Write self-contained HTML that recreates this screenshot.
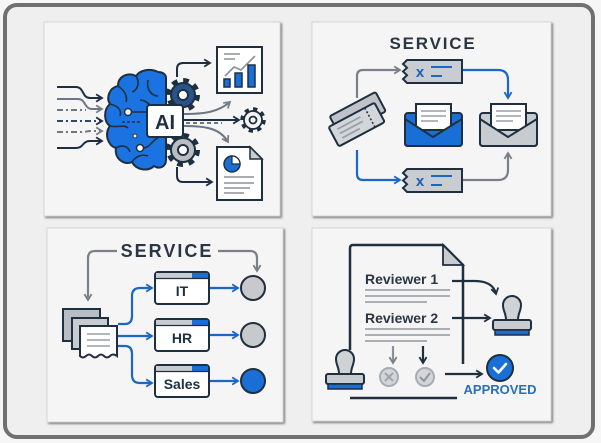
<!DOCTYPE html>
<html><head><meta charset="utf-8"><style>
html,body{margin:0;padding:0;background:#f6f6f6;}
svg{display:block;font-family:"Liberation Sans",sans-serif;}
</style></head><body>
<svg width="601" height="443" viewBox="0 0 601 443" xmlns="http://www.w3.org/2000/svg">
<defs>
<filter id="sh" x="-5%" y="-5%" width="110%" height="110%"><feDropShadow dx="1.5" dy="1.5" stdDeviation="1" flood-color="#6a6a6a" flood-opacity="0.85"/></filter>
<marker id="ad" viewBox="0 0 10 10" refX="8" refY="5" markerWidth="9" markerHeight="9" orient="auto" markerUnits="userSpaceOnUse"><path d="M1.5,1 L8,5 L1.5,9" fill="none" stroke="#1e2f40" stroke-width="2"/></marker>
<marker id="ag" viewBox="0 0 10 10" refX="8" refY="5" markerWidth="9" markerHeight="9" orient="auto" markerUnits="userSpaceOnUse"><path d="M1.5,1 L8,5 L1.5,9" fill="none" stroke="#7a8088" stroke-width="2"/></marker>
<marker id="ab" viewBox="0 0 10 10" refX="8" refY="5" markerWidth="9" markerHeight="9" orient="auto" markerUnits="userSpaceOnUse"><path d="M1.5,1 L8,5 L1.5,9" fill="none" stroke="#1a66c9" stroke-width="2"/></marker>
</defs>

<!-- outer frame -->
<rect x="5" y="5" width="588" height="432" rx="12" fill="#efefef" stroke="#707070" stroke-width="4"/>

<!-- panels -->
<rect x="44" y="22" width="236" height="194" fill="#f5f5f5" stroke="#d6d6d6" filter="url(#sh)"/>
<rect x="312" y="22" width="239" height="194" fill="#f5f5f5" stroke="#d6d6d6" filter="url(#sh)"/>
<rect x="47" y="228" width="236" height="194" fill="#f5f5f5" stroke="#d6d6d6" filter="url(#sh)"/>
<rect x="312" y="228" width="239" height="193" fill="#f5f5f5" stroke="#d6d6d6" filter="url(#sh)"/>

<!-- ================= PANEL 1 ================= -->
<g fill="none" stroke-width="2">
  <path d="M57,87 H76 C84,87 82,98 90,98 H102" stroke="#1e2f40" marker-end="url(#ad)"/>
  <path d="M57,99 H78 C86,99 84,109 92,109 H102" stroke="#6b7785" marker-end="url(#ag)"/>
  <path d="M57,110 H86" stroke="#6b7785" stroke-dasharray="6,3,2,3"/>
  <path d="M57,121 H102" stroke="#2d4a6a" stroke-dasharray="6,3,2,3" marker-end="url(#ad)"/>
  <path d="M57,132 H80 C88,132 86,131 92,131 H102" stroke="#6b7785" stroke-dasharray="6,3,2,3" marker-end="url(#ag)"/>
  <path d="M57,148 H76 C84,148 82,141 90,141 H102" stroke="#1e2f40" marker-end="url(#ad)"/>
</g>
<!-- brain -->
<path d="M158,72 C150,68 140,70 136,76 C128,72 118,76 118,86 C109,88 106,98 110,104 C103,110 104,122 110,126 C104,134 108,146 116,148 C114,158 124,166 132,162 C136,170 148,172 154,166 C160,170 166,166 166,160 L166,78 C166,74 162,72 158,72 Z" fill="#1a73e0" stroke="#1e2f40" stroke-width="2"/>
<g fill="none" stroke="#1e2f40" stroke-width="1.6">
  <path d="M136,76 C140,82 138,90 132,92"/>
  <path d="M118,86 C124,90 128,96 126,102"/>
  <path d="M110,104 C118,106 122,110 120,116"/>
  <path d="M110,126 C118,128 124,124 128,128"/>
  <path d="M116,148 C122,144 128,146 130,152"/>
  <path d="M148,80 C146,90 152,96 158,96"/>
  <path d="M140,100 C148,100 150,108 158,108"/>
  <path d="M132,162 C136,156 142,154 148,156"/>
  <path d="M131,112 H148"/>
  <path d="M143,148 C150,148 152,140 158,138"/>
  <path d="M122,122 H140" stroke-dasharray="3,2"/>
</g>
<circle cx="128" cy="112" r="3.5" fill="#fff" stroke="#1e2f40" stroke-width="1.5"/>
<circle cx="140" cy="148" r="3.5" fill="#fff" stroke="#1e2f40" stroke-width="1.5"/>
<circle cx="135" cy="136" r="2" fill="#fff" stroke="#1e2f40" stroke-width="1"/>
<!-- gears -->
<circle cx="183" cy="95" r="14" fill="none" stroke="#1e2f40" stroke-width="6" stroke-dasharray="5.5,5.5"/>
<circle cx="183" cy="95" r="12" fill="#27548a" stroke="#1e2f40" stroke-width="2"/>
<circle cx="183" cy="95" r="5" fill="#fff" stroke="#1e2f40" stroke-width="2"/>
<circle cx="183" cy="150" r="14" fill="none" stroke="#1e2f40" stroke-width="6" stroke-dasharray="5.5,5.5"/>
<circle cx="183" cy="150" r="12" fill="#b9bdc3" stroke="#1e2f40" stroke-width="2"/>
<circle cx="183" cy="150" r="5" fill="#fff" stroke="#1e2f40" stroke-width="2"/>
<circle cx="253" cy="120" r="10.5" fill="none" stroke="#1e2f40" stroke-width="4.5" stroke-dasharray="4.1,4.1"/>
<circle cx="253" cy="120" r="9" fill="#f5f5f5" stroke="#1e2f40" stroke-width="1.8"/>
<circle cx="253" cy="120" r="3.5" fill="#f5f5f5" stroke="#1e2f40" stroke-width="1.8"/>
<!-- output arrows -->
<g fill="none" stroke-width="2">
  <path d="M177,77 V69 Q177,63 183,63 H210" stroke="#1e2f40" marker-end="url(#ad)"/>
  <path d="M184,114 C205,114 218,112 230,102" stroke="#6b7785" marker-end="url(#ag)"/>
  <path d="M184,120 H239" stroke="#1e2f40" marker-end="url(#ad)"/>
  <path d="M186,123 H222" stroke="#6b7785" stroke-dasharray="4,3"/>
  <path d="M184,126 C205,126 220,128 228,142" stroke="#6b7785" marker-end="url(#ag)"/>
  <path d="M177,167 V176 Q177,182 183,182 H212" stroke="#1e2f40" marker-end="url(#ad)"/>
</g>
<!-- AI box -->
<rect x="147" y="105" width="36" height="32" rx="3" fill="#fff" stroke="#1e2f40" stroke-width="2"/>
<text x="165" y="129" font-size="20" font-weight="bold" text-anchor="middle" fill="#1e2f40">AI</text>
<!-- chart doc -->
<rect x="217" y="47" width="45" height="46" fill="#fff" stroke="#1e2f40" stroke-width="2"/>
<path d="M224,54 H240 M224,59 H235" stroke="#a8adb3" stroke-width="2"/>
<path d="M225,76 L234,67 L241,70 L255,56" fill="none" stroke="#8a9098" stroke-width="1.6"/>
<rect x="224" y="79" width="6" height="8" fill="#1a6fd6" stroke="#1e2f40" stroke-width="1.5"/>
<rect x="235" y="73" width="7" height="14" fill="#1a6fd6" stroke="#1e2f40" stroke-width="1.5"/>
<rect x="248" y="65" width="7" height="22" fill="#1a6fd6" stroke="#1e2f40" stroke-width="1.5"/>
<!-- report doc -->
<path d="M217,147 H250 L262,159 V200 H217 Z" fill="#fff" stroke="#1e2f40" stroke-width="2"/>
<path d="M250,147 V159 H262 Z" fill="#c8ccd1" stroke="#1e2f40" stroke-width="1.5"/>
<circle cx="232" cy="164" r="8" fill="#1a6fd6" stroke="#1e2f40" stroke-width="1.5"/>
<path d="M232,164 V156 A8,8 0 0 1 240,164 Z" fill="#fff" stroke="#1e2f40" stroke-width="1.2"/>
<path d="M224,177 H254 M224,183 H254 M224,188 H250 M224,193 H244" stroke="#a8adb3" stroke-width="2"/>

<!-- ================= PANEL 2 ================= -->
<text x="433" y="49" font-size="17" font-weight="bold" text-anchor="middle" fill="#2b3644" letter-spacing="1.8">SERVICE</text>
<g fill="none" stroke-width="2.2">
  <path d="M357,98 V76 Q357,70 363,70 H400" stroke="#7a8088" marker-end="url(#ag)"/>
  <path d="M463,70 H498 Q508,70 508,80 V98" stroke="#1a66c9" marker-end="url(#ab)"/>
  <path d="M357,150 V174 Q357,180 363,180 H400" stroke="#1a66c9" marker-end="url(#ab)"/>
  <path d="M463,180 H498 Q508,180 508,170 V153" stroke="#7a8088" marker-end="url(#ag)"/>
</g>
<!-- tickets -->
<g stroke="#1e2f40" stroke-width="2">
  <path d="M407,60 H462 V83 H407 L403,79 L407,75.2 L403,71.5 L407,67.8 L403,64 Z" fill="#c9cdd2"/>
  <path d="M407,169 H462 V192 H407 L403,188 L407,184.2 L403,180.5 L407,176.8 L403,173 Z" fill="#c9cdd2"/>
</g>
<text x="420" y="77" font-size="15" font-weight="bold" text-anchor="middle" fill="#1a5fb8">x</text>
<text x="420" y="186" font-size="15" font-weight="bold" text-anchor="middle" fill="#1a5fb8">x</text>
<path d="M431,67 H452 M431,76 H442 M431,176 H452 M431,185 H442" stroke="#1a66c9" stroke-width="2"/>
<!-- ticket stack -->
<g transform="rotate(-28 357 121)" stroke="#1e2f40" stroke-width="2">
  <rect x="335" y="104" width="52" height="22" rx="2" fill="#bfc3c9"/>
  <rect x="329" y="113" width="52" height="22" rx="2" fill="#d2d5d9"/>
  <path d="M370,113 V135" stroke-dasharray="2,2" stroke-width="1.5"/>
  <path d="M336,119 H362 M336,124 H362 M336,129 H356" stroke="#9aa0a7" stroke-width="1.8"/>
</g>
<!-- center envelope -->
<rect x="405" y="113" width="57" height="33" rx="3" fill="#1a6fd6" stroke="#1e2f40" stroke-width="2"/>
<rect x="416" y="104" width="35" height="26" fill="#fff" stroke="#1e2f40" stroke-width="2"/>
<path d="M421,111 H446 M421,116 H446 M421,121 H438" stroke="#a8adb3" stroke-width="1.8"/>
<path d="M405,119 L433,137 L462,119 V143 Q462,146 459,146 H408 Q405,146 405,143 Z" fill="#1a6fd6" stroke="#1e2f40" stroke-width="2" stroke-linejoin="round"/>
<!-- right envelope -->
<rect x="480" y="113" width="57" height="33" rx="3" fill="#c8ccd1" stroke="#1e2f40" stroke-width="2"/>
<rect x="491" y="104" width="35" height="26" fill="#fff" stroke="#1e2f40" stroke-width="2"/>
<path d="M496,111 H521 M496,116 H521 M496,121 H513" stroke="#a8adb3" stroke-width="1.8"/>
<path d="M480,119 L508,137 L537,119 V143 Q537,146 534,146 H483 Q480,146 480,143 Z" fill="#c8ccd1" stroke="#1e2f40" stroke-width="2" stroke-linejoin="round"/>

<!-- ================= PANEL 3 ================= -->
<text x="167" y="257" font-size="18" font-weight="bold" text-anchor="middle" fill="#2b3644" letter-spacing="2">SERVICE</text>
<g fill="none" stroke-width="2.2">
  <path d="M117,251 H95 Q88,251 88,258 V300" stroke="#7a8088" marker-end="url(#ag)"/>
  <path d="M218,251 H250 Q257,251 257,258 V271" stroke="#7a8088" marker-end="url(#ag)"/>
  <path d="M118,324 H125 Q132,324 132,316 V296 Q132,288 140,288 H152" stroke="#1a66c9" marker-end="url(#ab)"/>
  <path d="M118,336 H152" stroke="#1a66c9" marker-end="url(#ab)"/>
  <path d="M118,346 H125 Q132,346 132,354 V375 Q132,383 140,383 H152" stroke="#1a66c9" marker-end="url(#ab)"/>
  <path d="M209,288 H238" stroke="#1a66c9" marker-end="url(#ab)"/>
  <path d="M209,335 H238" stroke="#1a66c9" marker-end="url(#ab)"/>
  <path d="M209,381 H238" stroke="#1a66c9" marker-end="url(#ab)"/>
</g>
<!-- doc stack -->
<rect x="63" y="309" width="37" height="32" fill="#b8bdc4" stroke="#1e2f40" stroke-width="2"/>
<rect x="72" y="318" width="36" height="31" fill="#c8ccd1" stroke="#1e2f40" stroke-width="2"/>
<path d="M80,326 H117 V356 Q113,353 110,356 Q107,359 104,356 Q101,353 98,356 Q95,359 92,356 Q89,353 86,356 Q83,359 80,356 Z" fill="#fff" stroke="#1e2f40" stroke-width="2"/>
<path d="M87,334 H110 M87,340 H110 M87,346 H110" stroke="#a8adb3" stroke-width="1.8"/>
<!-- dept boxes -->
<g stroke="#1e2f40" stroke-width="2">
  <rect x="155" y="272" width="54" height="32" rx="3" fill="#fff"/>
  <rect x="155" y="319" width="54" height="32" rx="3" fill="#fff"/>
  <rect x="155" y="365" width="54" height="32" rx="3" fill="#fff"/>
</g>
<g>
  <rect x="156" y="273" width="52" height="5" fill="#c8ccd1"/><rect x="192" y="273" width="16" height="5" fill="#1a6fd6"/>
  <rect x="156" y="320" width="52" height="5" fill="#c8ccd1"/><rect x="192" y="320" width="16" height="5" fill="#1a6fd6"/>
  <rect x="156" y="366" width="52" height="5" fill="#c8ccd1"/><rect x="192" y="366" width="16" height="5" fill="#1a6fd6"/>
  <path d="M156,278.5 H208 M156,325.5 H208 M156,371.5 H208" stroke="#1e2f40" stroke-width="1.2"/>
</g>
<text x="182" y="296" font-size="14" font-weight="bold" text-anchor="middle" fill="#1e2f40">IT</text>
<text x="182" y="343" font-size="14" font-weight="bold" text-anchor="middle" fill="#1e2f40">HR</text>
<text x="182" y="389" font-size="14" font-weight="bold" text-anchor="middle" fill="#1e2f40">Sales</text>
<circle cx="253" cy="288" r="12" fill="#c8c9cc" stroke="#1e2f40" stroke-width="2"/>
<circle cx="253" cy="335" r="12" fill="#c8c9cc" stroke="#1e2f40" stroke-width="2"/>
<circle cx="253" cy="381" r="12" fill="#1a6fd6" stroke="#1e2f40" stroke-width="2"/>

<!-- ================= PANEL 4 ================= -->
<path d="M350,350 V248 Q350,245 353,245 H443 L463,265 V364" fill="none" stroke="#1e2f40" stroke-width="2.5"/>
<path d="M443,245 V265 H463 Z" fill="#c8ccd1" stroke="#1e2f40" stroke-width="1.8"/>
<path d="M350,398 H457" stroke="#1e2f40" stroke-width="2.5"/>
<text x="365" y="284" font-size="14" font-weight="bold" fill="#2b3644">Reviewer 1</text>
<text x="365" y="323" font-size="14" font-weight="bold" fill="#2b3644">Reviewer 2</text>
<path d="M365,290 H450 M365,296 H450 M365,302 H427 M365,329 H450 M365,335 H450 M365,341 H427" stroke="#aab0b6" stroke-width="2"/>
<g fill="none" stroke-width="2.2">
  <path d="M452,281 H475 C486,281 494,285 496,294" stroke="#1e2f40" marker-end="url(#ad)"/>
  <path d="M452,318 H490" stroke="#1e2f40" marker-end="url(#ad)"/>
  <path d="M393,346 V363" stroke="#8a9098" marker-end="url(#ag)"/>
  <path d="M423,346 V363" stroke="#1e2f40" marker-end="url(#ad)"/>
  <path d="M445,374 H482" stroke="#1e2f40" marker-end="url(#ad)"/>
</g>
<circle cx="389" cy="377" r="9" fill="#d3d6d9" stroke="#a7acb2" stroke-width="2"/>
<path d="M385,373 L393,381 M393,373 L385,381" stroke="#a0a5ab" stroke-width="2"/>
<circle cx="425" cy="377" r="9" fill="#d3d6d9" stroke="#a7acb2" stroke-width="2"/>
<path d="M420,377 L424,381 L430,373" fill="none" stroke="#8f959c" stroke-width="2"/>
<!-- stamps -->
<path d="M506,320 C506,313 503,311 503,305 A9,9 0 1 1 521,305 C521,311 518,313 518,320 Z" fill="#d0d3d6" stroke="#1e2f40" stroke-width="2"/>
<rect x="493" y="320" width="38" height="10" rx="2" fill="#c8ccd1" stroke="#1e2f40" stroke-width="2"/>
<rect x="495" y="330" width="34" height="5" fill="#1a6fd6" stroke="#1e2f40" stroke-width="1.5"/>
<path d="M339,374 C339,367 336,365 336,359 A9,9 0 1 1 354,359 C354,365 351,367 351,374 Z" fill="#d0d3d6" stroke="#1e2f40" stroke-width="2"/>
<rect x="326" y="374" width="38" height="10" rx="2" fill="#c8ccd1" stroke="#1e2f40" stroke-width="2"/>
<rect x="328" y="384" width="34" height="5" fill="#1a6fd6" stroke="#1e2f40" stroke-width="1.5"/>
<!-- approved -->
<circle cx="500" cy="368" r="13" fill="#1a6fd6" stroke="#1e2f40" stroke-width="2"/>
<path d="M494,368 L498.5,372.5 L506,364" fill="none" stroke="#fff" stroke-width="2.6" stroke-linecap="round" stroke-linejoin="round"/>
<text x="500" y="394" font-size="13" font-weight="bold" text-anchor="middle" fill="#2a6fb8">APPROVED</text>
</svg>
</body></html>
